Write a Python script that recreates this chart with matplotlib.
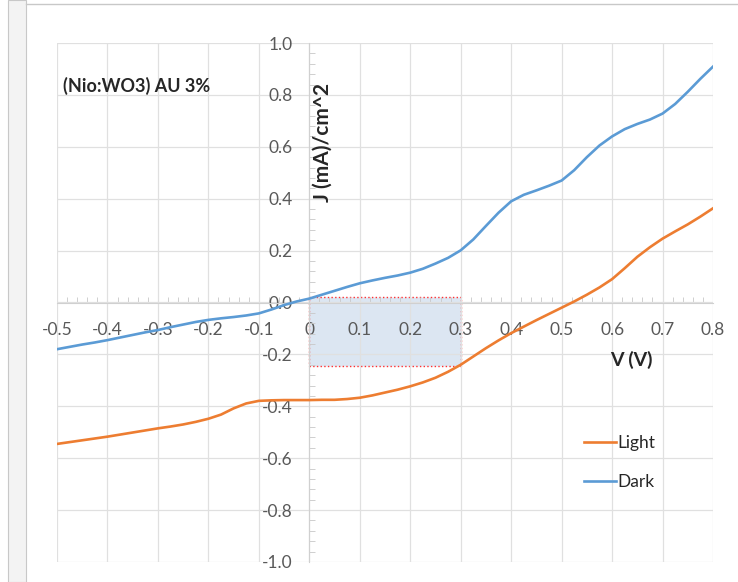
import matplotlib
matplotlib.use("Agg")
import matplotlib.pyplot as plt
from matplotlib.patches import Rectangle
from matplotlib.lines import Line2D
from matplotlib.ticker import MultipleLocator, FuncFormatter

plt.rcParams['font.family'] = ['Lato', 'DejaVu Sans']

voltage = [-0.500, -0.475, -0.450, -0.425, -0.400, -0.375, -0.350, -0.325, -0.300, -0.275,
           -0.250, -0.225, -0.200, -0.175, -0.150, -0.125, -0.100, -0.075, -0.050, -0.025,
           0.000, 0.025, 0.050, 0.075, 0.100, 0.125, 0.150, 0.175, 0.200, 0.225,
           0.250, 0.275, 0.300, 0.325, 0.350, 0.375, 0.400, 0.425, 0.450, 0.475,
           0.500, 0.525, 0.550, 0.575, 0.600, 0.625, 0.650, 0.675, 0.700, 0.725,
           0.750, 0.775, 0.800]
j_light = [-0.545, -0.538, -0.531, -0.524, -0.517, -0.509, -0.501, -0.493, -0.485, -0.478,
           -0.470, -0.460, -0.448, -0.432, -0.408, -0.389, -0.379, -0.377, -0.376, -0.376,
           -0.376, -0.375, -0.375, -0.372, -0.367, -0.358, -0.347, -0.336, -0.323, -0.308,
           -0.290, -0.267, -0.240, -0.208, -0.176, -0.146, -0.118, -0.093, -0.068, -0.044,
           -0.020, 0.004, 0.030, 0.058, 0.090, 0.132, 0.176, 0.213, 0.246, 0.274,
           0.301, 0.331, 0.363]
j_dark = [-0.180, -0.171, -0.162, -0.154, -0.145, -0.135, -0.125, -0.115, -0.106, -0.095,
          -0.085, -0.075, -0.067, -0.061, -0.056, -0.050, -0.042, -0.027, -0.010, 0.004,
          0.015, 0.030, 0.045, 0.060, 0.074, 0.085, 0.095, 0.104, 0.115, 0.130,
          0.150, 0.172, 0.201, 0.243, 0.295, 0.346, 0.390, 0.415, 0.432, 0.450,
          0.470, 0.510, 0.560, 0.605, 0.640, 0.668, 0.688, 0.705, 0.728, 0.765,
          0.812, 0.862, 0.909]

# highlighted working region (V from 0 to 0.3)
box_v = (0.0, 0.3)
box_j = (-0.245, 0.021)

orange = '#ED7D31'
blue = '#5B9BD5'
tick_col = '#595959'
text_col = '#262626'

fig = plt.figure(figsize=(7.38, 5.82), dpi=100)
fig.patch.set_facecolor('white')

# window frame on the left and top
fig.patches.append(Rectangle((8/738, 0), 18/738, 1, transform=fig.transFigure,
                             facecolor='#f3f3f3', edgecolor='#c8c8c8', lw=0.8))
fig.lines.append(Line2D([26/738, 1], [1 - 4/582, 1 - 4/582], transform=fig.transFigure,
                        color='#c8c8c8', lw=1.0))

ax = fig.add_axes([57/738, 20/582, 656/738, 519/582])
ax.set_xlim(-0.5, 0.8)
ax.set_ylim(-1.0, 1.0)

ax.xaxis.set_major_locator(MultipleLocator(0.1))
ax.yaxis.set_major_locator(MultipleLocator(0.2))
ax.xaxis.set_minor_locator(MultipleLocator(0.02))
ax.yaxis.set_minor_locator(MultipleLocator(0.04))
ax.xaxis.set_major_formatter(FuncFormatter(lambda v, p: '%g' % (round(v, 1) + 0.0)))
ax.yaxis.set_major_formatter(FuncFormatter(lambda v, p: '%.1f' % (round(v, 1) + 0.0)))
ax.grid(True, which='major', color='#e0e0e0', lw=0.9)
ax.set_axisbelow('line')

for s in ['top', 'right']:
    ax.spines[s].set_visible(False)
ax.spines['left'].set_position(('data', 0))
ax.spines['bottom'].set_position(('data', 0))
ax.spines['left'].set_color('#d0d0d0')
ax.spines['bottom'].set_color('#d0d0d0')

ax.tick_params(which='major', length=0, labelsize=12.5, labelcolor=tick_col)
ax.tick_params(axis='x', which='major', pad=14)
ax.tick_params(axis='y', which='major', pad=12)
ax.tick_params(axis='x', which='minor', direction='in', length=4, color='#c8c8c8')
ax.tick_params(axis='y', which='minor', direction='in', length=4, color='#c8c8c8')

ax.add_patch(Rectangle((box_v[0], box_j[0]), box_v[1] - box_v[0], box_j[1] - box_j[0],
                       facecolor='#dce6f2', edgecolor='#ff3030', lw=1.0, ls=':', zorder=1.2))

ax.plot(voltage, j_light, color=orange, lw=1.9, label='Light', zorder=3,
        solid_joinstyle='round')
ax.plot(voltage, j_dark, color=blue, lw=1.9, label='Dark', zorder=3,
        solid_joinstyle='round')

ax.text(0.027, 0.615, 'J (mA)/cm^2', rotation=90, ha='center', va='center',
        fontsize=15, fontweight='bold', color=text_col)
ax.text(0.639, -0.222, 'V (V)', ha='center', va='center',
        fontsize=14, fontweight='bold', color=text_col)
ax.text(-0.488, 0.835, '(Nio:WO3) AU 3%', ha='left', va='center',
        fontsize=13, fontweight='bold', color=text_col)

leg = ax.legend(loc='upper left', bbox_to_anchor=(0.78, 0.275), frameon=False,
                fontsize=12.5, handlelength=1.8, handletextpad=0.1, labelspacing=1.35)
for t in leg.get_texts():
    t.set_color(text_col)

fig.savefig('out.png', dpi=100)
